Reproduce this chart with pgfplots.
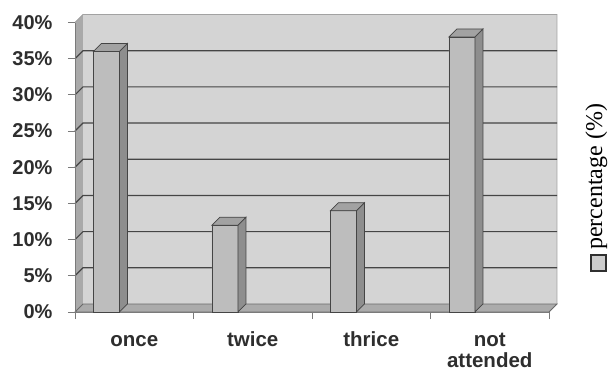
\documentclass[border=0pt]{standalone}
\usepackage{pgfplots}
\pgfplotsset{compat=1.18}
\usepackage{fontspec}
\setmainfont{Liberation Serif}
\setsansfont{Liberation Sans}
\definecolor{wall}{HTML}{D4D4D4}
\definecolor{sidewall}{HTML}{A9A9A9}
\definecolor{floorc}{HTML}{ABABAB}
\definecolor{gridc}{HTML}{454545}
\definecolor{front}{HTML}{BDBDBD}
\definecolor{side}{HTML}{8E8E8E}
\definecolor{topc}{HTML}{A2A2A2}
\definecolor{axisc}{HTML}{7A7A7A}
\definecolor{labelc}{HTML}{2E2E2E}
\begin{document}
\begin{tikzpicture}
\path[use as bounding box] (-75pt,-58pt) rectangle (533pt,312pt);
% walls
\fill[sidewall] (0,0) -- (8pt,8pt) -- (8pt,297.5pt) -- (0,289.5pt) -- cycle;
\fill[wall] (8pt,8pt) rectangle (482pt,297.5pt);
\draw[axisc!70, line width=0.8pt] (0,289.5pt) -- (8pt,297.5pt) -- (482pt,297.5pt) -- (482pt,8pt);
\fill[floorc] (0,0) -- (474pt,0) -- (482pt,8pt) -- (8pt,8pt) -- cycle;
\draw[gridc!80, line width=0.8pt] (0,0) -- (474pt,0) -- (482pt,8pt) -- (8pt,8pt) -- cycle;
\foreach \i in {1,...,7} {
 \draw[gridc, line width=1.2pt] (0,\i*36.1875pt) -- ++(8pt,8pt) -- ++(474pt,0);
}
\begin{axis}[
  scale only axis, width=474pt, height=289.5pt,
  xmin=0, xmax=4, ymin=0, ymax=40,
  axis x line*=bottom, axis y line*=left,
  axis line style={axisc, line width=0.8pt},
  tick align=outside, major tick length=7pt,
  tick style={axisc, line width=0.8pt},
  ytick={0,5,...,40},
  yticklabels={0\%,5\%,10\%,15\%,20\%,25\%,30\%,35\%,40\%},
  yticklabel style={font=\sffamily\bfseries\fontsize{20}{22}\selectfont, text=labelc, xshift=-12pt},
  xtick={0,1,2,3,4},
  x tick label as interval,
  xticklabels={once,twice,thrice,{\begin{tabular}[t]{@{}c@{}}not\\attended\end{tabular}}},
  xticklabel style={font=\sffamily\bfseries\fontsize{20.5}{21}\selectfont, text=labelc, anchor=base, yshift=-27pt},
  clip=false,
]
% front faces
\addplot[ybar, bar width=26pt, bar shift=0pt, fill=front, draw=gridc, line width=0.8pt]
  coordinates {(0.265,36) (1.265,12) (2.265,14) (3.265,38)};
% side and top faces (depth 8pt = 0.0675 x-units, 1.105 y-units)
\addplot[fill=side, draw=gridc, line width=0.7pt] coordinates {(0.3747,0) (0.4422,1.105) (0.4422,37.105) (0.3747,36)} -- cycle;
\addplot[fill=topc, draw=gridc, line width=0.7pt] coordinates {(0.1553,36) (0.3747,36) (0.4422,37.105) (0.2228,37.105)} -- cycle;
\addplot[fill=side, draw=gridc, line width=0.7pt] coordinates {(1.3747,0) (1.4422,1.105) (1.4422,13.105) (1.3747,12)} -- cycle;
\addplot[fill=topc, draw=gridc, line width=0.7pt] coordinates {(1.1553,12) (1.3747,12) (1.4422,13.105) (1.2228,13.105)} -- cycle;
\addplot[fill=side, draw=gridc, line width=0.7pt] coordinates {(2.3747,0) (2.4422,1.105) (2.4422,15.105) (2.3747,14)} -- cycle;
\addplot[fill=topc, draw=gridc, line width=0.7pt] coordinates {(2.1553,14) (2.3747,14) (2.4422,15.105) (2.2228,15.105)} -- cycle;
\addplot[fill=side, draw=gridc, line width=0.7pt] coordinates {(3.3747,0) (3.4422,1.105) (3.4422,39.105) (3.3747,38)} -- cycle;
\addplot[fill=topc, draw=gridc, line width=0.7pt] coordinates {(3.1553,38) (3.3747,38) (3.4422,39.105) (3.2228,39.105)} -- cycle;
\end{axis}
% legend
\draw[fill=front!75!white, draw=gridc!70!black, line width=1.6pt] (516pt,41pt) rectangle (531pt,57pt);
\node[rotate=90, anchor=base west, inner sep=0pt, font=\fontsize{24}{26}\selectfont] at (527pt,62pt) {percentage (\%)};
\end{tikzpicture}
\end{document}
